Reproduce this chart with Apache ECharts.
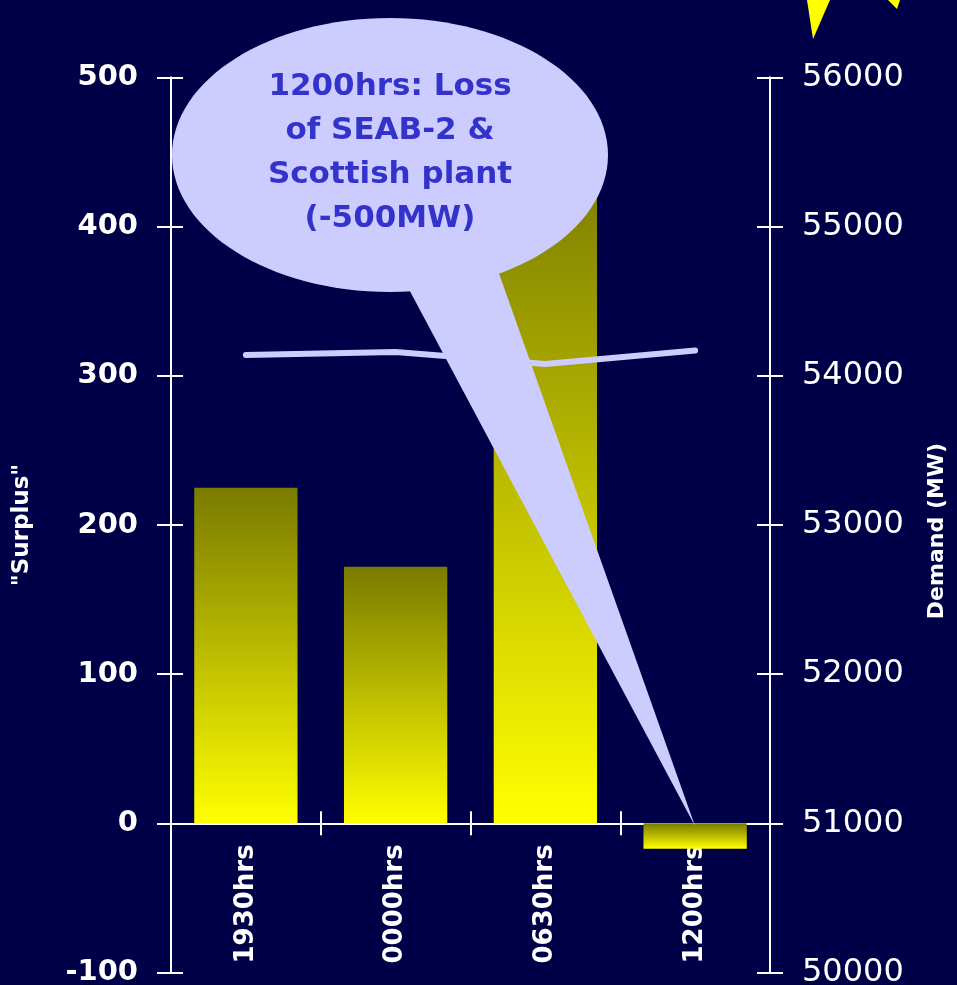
<!DOCTYPE html>
<html>
<head>
<meta charset="UTF-8">
<title>Surplus and demand</title>
<style>
  html, body { margin: 0; padding: 0; background: #000048; }
  #chart { width: 957px; height: 985px; }
</style>
</head>
<body>
<div id="chart"></div>
<script src="https://cdn.jsdelivr.net/npm/echarts@6/dist/echarts.min.js"></script>
<script>
// data
var categories = ['1930hrs', '0000hrs', '0630hrs', '1200hrs'];
var surplus = [225, 172, 450, -17];
var demand = [54140, 54160, 54080, 54170];
var surplusTicks = { min: -100, max: 500, interval: 100 };
var demandTicks = { min: 50000, max: 56000, interval: 1000 };
var calloutText = '1200hrs: Loss\nof SEAB-2 &\nScottish plant\n(-500MW)';

var white = '#ffffff';
var font = 'DejaVu Sans';

// olive at the top of each bar, yellow at the bottom
var barGradient = new echarts.graphic.LinearGradient(0, 0, 0, 1, [
  { offset: 0, color: '#7a7a00' },
  { offset: 1, color: '#ffff00' }
]);

var gridTop = 77.5, gridBottom = 12.5;
var plotH = 985 - gridTop - gridBottom;
// category axis sits on the zero line of the surplus axis; move it up from the grid bottom
var zeroLift = -plotH * (0 - surplusTicks.min) / (surplusTicks.max - surplusTicks.min);

var chart = echarts.init(document.getElementById('chart'));

var lineStyle = { color: white, width: 2 };

var option = {
  backgroundColor: '#000048',
  animation: false,
  grid: {
    left: 171, right: 187, top: gridTop, bottom: gridBottom,
    containLabel: false, outerBoundsMode: 'none'
  },
  xAxis: [{
    type: 'category',
    position: 'bottom',
    offset: zeroLift,
    data: categories,
    axisLine: { onZero: false, lineStyle: lineStyle },
    axisTick: { show: true, length: 12, interval: 0, lineStyle: lineStyle },
    axisLabel: {
      rotate: 90, margin: 21, interval: 0, hideOverlap: false,
      color: white, fontFamily: font, fontWeight: 'bold', fontSize: 26
    },
    splitLine: { show: false }
  }, {
    type: 'category',
    position: 'bottom',
    offset: zeroLift,
    data: categories,
    axisLine: { onZero: false, lineStyle: lineStyle },
    axisTick: { show: true, inside: true, length: 12, interval: 0, lineStyle: lineStyle },
    axisLabel: { show: false },
    splitLine: { show: false }
  }],
  yAxis: [{
    type: 'value',
    position: 'left',
    min: surplusTicks.min, max: surplusTicks.max, interval: surplusTicks.interval,
    name: '"Surplus"',
    nameLocation: 'middle',
    nameRotate: 90,
    nameGap: 137,
    nameTextStyle: { color: white, fontFamily: font, fontWeight: 'bold', fontSize: 23 },
    axisLine: { show: true, lineStyle: lineStyle },
    axisTick: { show: true, length: 14, lineStyle: lineStyle },
    axisLabel: { margin: 33, color: white, fontFamily: font, fontWeight: 'bold', fontSize: 29 },
    splitLine: { show: false }
  }, {
    type: 'value',
    position: 'left',
    min: surplusTicks.min, max: surplusTicks.max, interval: surplusTicks.interval,
    axisLine: { show: true, lineStyle: lineStyle },
    axisTick: { show: true, inside: true, length: 12, lineStyle: lineStyle },
    axisLabel: { show: false },
    splitLine: { show: false }
  }, {
    type: 'value',
    position: 'right',
    min: demandTicks.min, max: demandTicks.max, interval: demandTicks.interval,
    name: 'Demand (MW)',
    nameLocation: 'middle',
    nameRotate: 90,
    nameGap: 156,
    nameTextStyle: { color: white, fontFamily: font, fontWeight: 'bold', fontSize: 22, padding: [0, 12, 0, 0] },
    axisLine: { show: true, lineStyle: lineStyle },
    axisTick: { show: true, length: 13, lineStyle: lineStyle },
    axisLabel: {
      margin: 32, color: white, fontFamily: font, fontSize: 32,
      formatter: function (v) { return String(v); }
    },
    splitLine: { show: false }
  }, {
    type: 'value',
    position: 'right',
    min: demandTicks.min, max: demandTicks.max, interval: demandTicks.interval,
    axisLine: { show: true, lineStyle: lineStyle },
    axisTick: { show: true, inside: true, length: 13, lineStyle: lineStyle },
    axisLabel: { show: false },
    splitLine: { show: false }
  }],
  series: [{
    type: 'bar',
    xAxisIndex: 0,
    yAxisIndex: 0,
    barWidth: '69%',
    data: surplus,
    itemStyle: { color: barGradient },
    z: 2
  }, {
    type: 'line',
    xAxisIndex: 0,
    yAxisIndex: 2,
    data: demand,
    symbol: 'none',
    lineStyle: { color: '#ccccff', width: 6, cap: 'round', join: 'round' },
    z: 3
  }],
  graphic: [{
    type: 'polygon',
    z: 100,
    shape: { points: [[807, 0], [830, 0], [813, 39]] },
    style: { fill: '#ffff00' }
  }, {
    type: 'polygon',
    z: 100,
    shape: { points: [[888, 0], [900, 0], [897, 9]] },
    style: { fill: '#ffff00' }
  }, {
    type: 'ellipse',
    z: 100,
    shape: { cx: 390, cy: 155, rx: 218, ry: 137 },
    style: { fill: '#ccccff' }
  }, {
    type: 'polygon',
    z: 100,
    shape: { points: [[404, 280], [496, 265], [695, 826]] },
    style: { fill: '#ccccff' }
  }, {
    type: 'text',
    z: 101,
    x: 390,
    y: 153,
    style: {
      text: calloutText,
      fill: '#3333cc',
      font: 'bold 31px "DejaVu Sans"',
      lineHeight: 44,
      align: 'center',
      verticalAlign: 'middle'
    }
  }]
};

chart.setOption(option);
</script>
</body>
</html>
